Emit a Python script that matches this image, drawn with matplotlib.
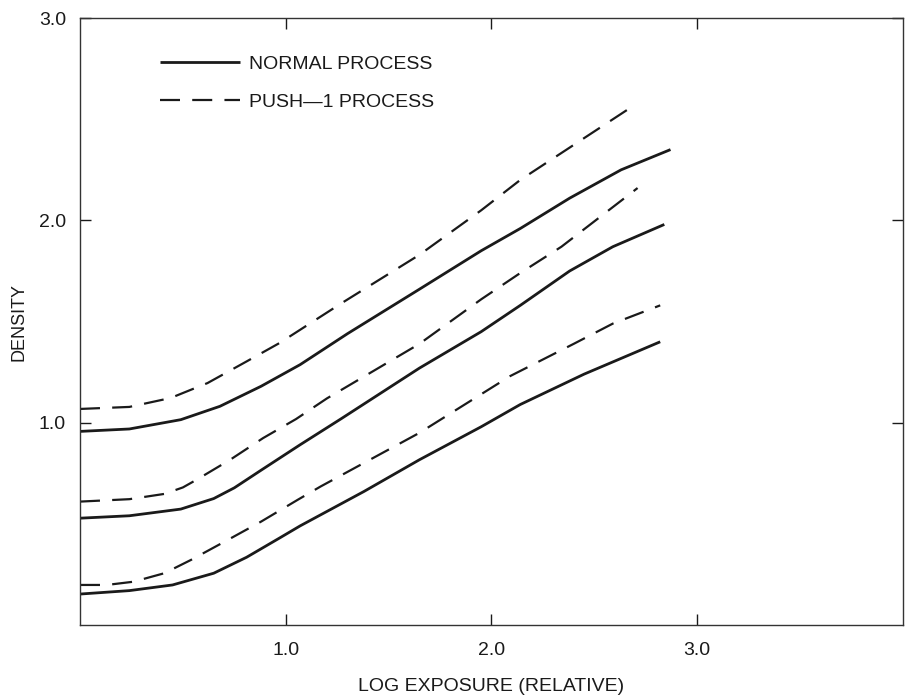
import matplotlib
matplotlib.use("Agg")
import matplotlib.pyplot as plt

plt.rcParams['font.family'] = ['Liberation Sans', 'DejaVu Sans']

# Normal process curves (solid)
normal_hi_x = [0, 0.24, 0.49, 0.68, 0.88, 1.07, 1.3, 1.65, 1.95, 2.14, 2.38, 2.63, 2.87]
normal_hi_y = [0.957, 0.969, 1.015, 1.081, 1.18, 1.287, 1.44, 1.66, 1.85, 1.96, 2.11, 2.25, 2.35]
normal_mid_x = [0, 0.24, 0.49, 0.65, 0.75, 0.88, 1.07, 1.27, 1.65, 1.95, 2.14, 2.38, 2.59, 2.84]
normal_mid_y = [0.528, 0.54, 0.573, 0.625, 0.678, 0.765, 0.891, 1.02, 1.27, 1.45, 1.58, 1.75, 1.87, 1.98]
normal_lo_x = [0, 0.24, 0.45, 0.65, 0.81, 0.97, 1.07, 1.38, 1.65, 1.95, 2.14, 2.45, 2.82]
normal_lo_y = [0.153, 0.17, 0.198, 0.256, 0.335, 0.43, 0.49, 0.66, 0.817, 0.98, 1.09, 1.24, 1.40]

# Push-1 process curves (dashed)
push_hi_x = [0, 0.24, 0.44, 0.62, 0.81, 0.97, 1.27, 1.65, 1.95, 2.14, 2.32, 2.68]
push_hi_y = [1.068, 1.078, 1.122, 1.196, 1.303, 1.394, 1.59, 1.83, 2.05, 2.20, 2.32, 2.56]
push_mid_x = [0, 0.24, 0.41, 0.50, 0.57, 0.73, 0.89, 1.05, 1.2, 1.65, 1.95, 2.14, 2.34, 2.71]
push_mid_y = [0.61, 0.622, 0.648, 0.68, 0.72, 0.817, 0.924, 1.018, 1.12, 1.39, 1.61, 1.74, 1.87, 2.16]
push_lo_x = [0, 0.13, 0.26, 0.41, 0.54, 0.71, 0.88, 1.06, 1.17, 1.65, 2.09, 2.4, 2.59, 2.82]
push_lo_y = [0.198, 0.198, 0.214, 0.256, 0.322, 0.416, 0.511, 0.62, 0.685, 0.95, 1.23, 1.39, 1.49, 1.58]

xticks = [1.0, 2.0, 3.0]
xtick_labels = ["1.0", "2.0", "3.0"]
yticks = [1.0, 2.0, 3.0]
ytick_labels = ["1.0", "2.0", "3.0"]

fig = plt.figure(figsize=(9.1, 6.96), dpi=100)
ax = fig.add_axes([0.0879, 0.102, 0.9044, 0.872])

ink = '#1a1a1a'
solid_kw = dict(color=ink, lw=2.0, solid_joinstyle='round', solid_capstyle='butt')
dash_kw = dict(color=ink, lw=1.6, dashes=(9, 5.5), dash_joinstyle='round')

ax.plot(normal_hi_x, normal_hi_y, label='NORMAL PROCESS', **solid_kw)
ax.plot(push_hi_x, push_hi_y, label='PUSH\u20141 PROCESS', **dash_kw)
ax.plot(normal_mid_x, normal_mid_y, **solid_kw)
ax.plot(push_mid_x, push_mid_y, **dash_kw)
ax.plot(normal_lo_x, normal_lo_y, **solid_kw)
ax.plot(push_lo_x, push_lo_y, **dash_kw)

ax.set_xlim(0, 4.0)
ax.set_ylim(0, 3.0)
ax.set_xticks(xticks)
ax.set_xticklabels(xtick_labels)
ax.set_yticks(yticks)
ax.set_yticklabels(ytick_labels)
ax.tick_params(direction='in', length=8, width=1.0, color=ink,
               top=True, right=True, labelsize=14, labelcolor=ink)
ax.tick_params(axis='x', pad=12)
ax.tick_params(axis='y', pad=10)
for s in ax.spines.values():
    s.set_color('#333333')
    s.set_linewidth(1.0)

ax.set_xlabel('LOG EXPOSURE (RELATIVE)', fontsize=14, color=ink, labelpad=14)
ax.set_ylabel('DENSITY', fontsize=13, color=ink, labelpad=8)

leg = ax.legend(loc='upper left', bbox_to_anchor=(0.097, 0.939), frameon=False,
                fontsize=14, handlelength=4.1, handletextpad=0.5,
                labelspacing=1.05, borderpad=0, borderaxespad=0)
for t in leg.get_texts():
    t.set_color(ink)

fig.savefig('out.png', dpi=100)
